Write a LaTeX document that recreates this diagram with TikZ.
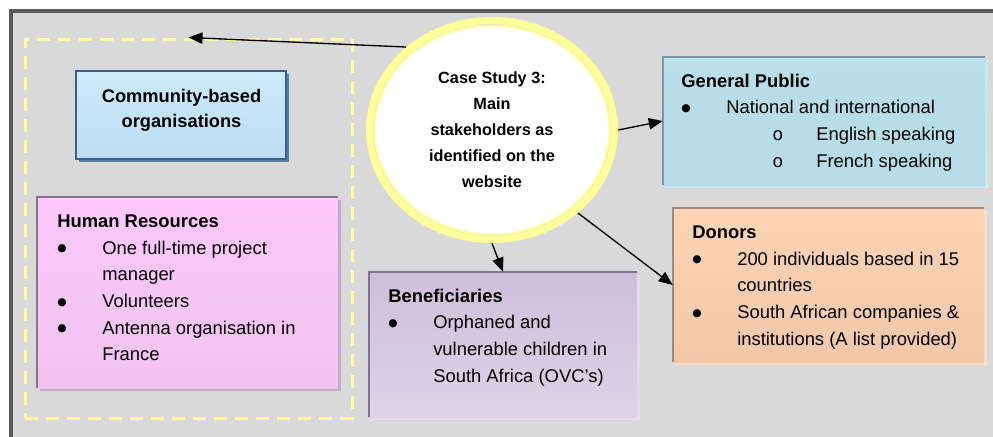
\documentclass[tikz,border=0pt]{standalone}
\usepackage{fontspec}
\setmainfont{Liberation Sans}
\newfontfamily\subbulletfont{Liberation Mono}
\newfontfamily\dotfont{DejaVu Sans}
\usetikzlibrary{arrows.meta,shadows,shapes.geometric}

\definecolor{bggray}{HTML}{D9D9D9}
\definecolor{framegray}{HTML}{5A5A5A}
\definecolor{ringyellow}{HTML}{FFFF99}
% Community-based organisations
\definecolor{cbtop}{HTML}{CCEBFB}
\definecolor{cbbot}{HTML}{BCDDF2}
\definecolor{cbedge}{HTML}{3A5F8E}
\definecolor{cbshadow}{HTML}{5B7CA6}
% Human resources
\definecolor{hrtop}{HTML}{FDC8FD}
\definecolor{hrbot}{HTML}{F0C4EE}
\definecolor{hredge}{HTML}{857690}
\definecolor{hrshadow}{HTML}{C3A8C8}
% Beneficiaries
\definecolor{bntop}{HTML}{CDBFD9}
\definecolor{bnbot}{HTML}{DDD3E7}
\definecolor{bnedge}{HTML}{7E7489}
\definecolor{bnshadow}{HTML}{E4DAEE}
% Donors
\definecolor{dntop}{HTML}{FBD5B5}
\definecolor{dnbot}{HTML}{F2C7AA}
\definecolor{dnedge}{HTML}{A08A7A}
\definecolor{dnshadow}{HTML}{FBDDC8}
% General public
\definecolor{gptop}{HTML}{B9DFE9}
\definecolor{gpbot}{HTML}{B5DCE7}
\definecolor{gpedge}{HTML}{7B97A4}
\definecolor{gpshadow}{HTML}{C8E7F0}

\newcommand{\bodyfont}{\fontsize{13.8}{20}\selectfont}
\newcommand{\bul}{\makebox[33.75pt][l]{\raisebox{1.6pt}{\dotfont\fontsize{8}{8}\selectfont ●}}}
\newcommand{\cont}{\hspace*{33.75pt}}
\newcommand{\subbul}{\hspace*{68.25pt}\makebox[33pt][l]{\subbulletfont o}}

\begin{document}
\begin{tikzpicture}[x=0.75pt,y=-0.75pt,
  panel/.style n args={3}{rectangle, inner sep=0pt, top color=#1, bottom color=#2,
    drop shadow={shadow xshift=2.25pt, shadow yshift=-2.25pt, fill=#3, opacity=1}},
  edgeline/.style={line width=1.6pt},
  boxtext/.style={anchor=north west, inner sep=0pt, align=left, font=\bodyfont},
  conn/.style={-{Triangle[length=10.5pt,width=8.5pt]}, line width=1pt, black},
  dashbox/.style={rectangle, draw=ringyellow, line width=2.25pt,
    dash pattern=on 9.75pt off 6pt}]
\useasboundingbox (0,0) rectangle (993,436);
\clip (0,0) rectangle (993,436);

% page background and frame
\fill[bggray] (11,10) rectangle (1000,440);
\draw[framegray, line width=2.6pt] (10.8,440) -- (10.8,10.8) -- (1000,10.8);

% dashed grouping frame
\node[dashbox, minimum width=245.25pt, minimum height=284.25pt] (grp) at (188.5,228.5) {};

% community-based organisations
\node[panel={cbtop}{cbbot}{cbshadow}, draw=cbedge, line width=1.5pt,
  minimum width=157.5pt, minimum height=66pt] (cbo) at (181,115) {};
\node[font=\bfseries\fontsize{13.7}{18.75}\selectfont, align=center] (cbotext) at (181.5,110)
  {Community-based\\organisations};

% human resources
\node[panel={hrtop}{hrbot}{hrshadow}, minimum width=225.75pt, minimum height=143.25pt] (hr) at (187.5,292.5) {};
\draw[hredge, edgeline] (hr.south west) -- (hr.north west) -- (hr.north east);
\node[boxtext] (hrtext) at (57,214.5)
  {\textbf{Human Resources}\\\bul One full-time project\\\cont manager\\\bul Volunteers\\\bul Antenna organisation in\\\cont France};

% beneficiaries
\node[panel={bntop}{bnbot}{bnshadow}, minimum width=201pt, minimum height=108.75pt] (ben) at (503,344.5) {};
\draw[bnedge, edgeline] (ben.south west) -- (ben.north west) -- (ben.north east);
\node[boxtext] (bentext) at (388,288.5)
  {\textbf{Beneficiaries}\\\bul Orphaned and\\\cont vulnerable children in\\\cont South Africa (OVC’s)};

% donors
\node[panel={dntop}{dnbot}{dnshadow}, minimum width=233.25pt, minimum height=115.5pt] (don) at (828.5,285) {};
\draw[dnedge, edgeline] (don.south west) -- (don.north west) -- (don.north east);
\node[boxtext] (dontext) at (692,225.5)
  {\textbf{Donors}\\\bul 200 individuals based in 15\\\cont countries\\\bul South African companies \&\\\cont institutions (A list provided)};

% general public
\node[panel={gptop}{gpbot}{gpshadow}, minimum width=241.5pt, minimum height=96pt] (gp) at (824,121) {};
\draw[gpedge, edgeline] (gp.south west) -- (gp.north west) -- (gp.north east);
\node[boxtext] (gptext) at (681,73.5)
  {\textbf{General Public}\\\bul National and international\\\subbul English speaking\\\subbul French speaking};

% central ellipse with its double yellow ring
\node[ellipse, minimum width=189pt, minimum height=169.5pt, inner sep=0pt] (ell) at (492,130) {};
\draw[ringyellow, line width=5.25pt] (ell.center) ellipse [x radius=91.875pt, y radius=82.125pt];
\filldraw[fill=white, draw=ringyellow, line width=1.5pt] (ell.center) ellipse [x radius=88.125pt, y radius=78.375pt];
\node[font=\bfseries\fontsize{12.2}{19.5}\selectfont, align=center] (elltext) at (492,129.5)
  {Case Study 3:\\Main\\stakeholders as\\identified on the\\website};

% connectors
\draw[conn] (ell.136) -- (grp.north);
\draw[conn] (ell.east) -- (gp.west);
\draw[conn] (ell.south) -- (ben.north);
\draw[conn] (ell.-44) -- (don.west);
\end{tikzpicture}
\end{document}
